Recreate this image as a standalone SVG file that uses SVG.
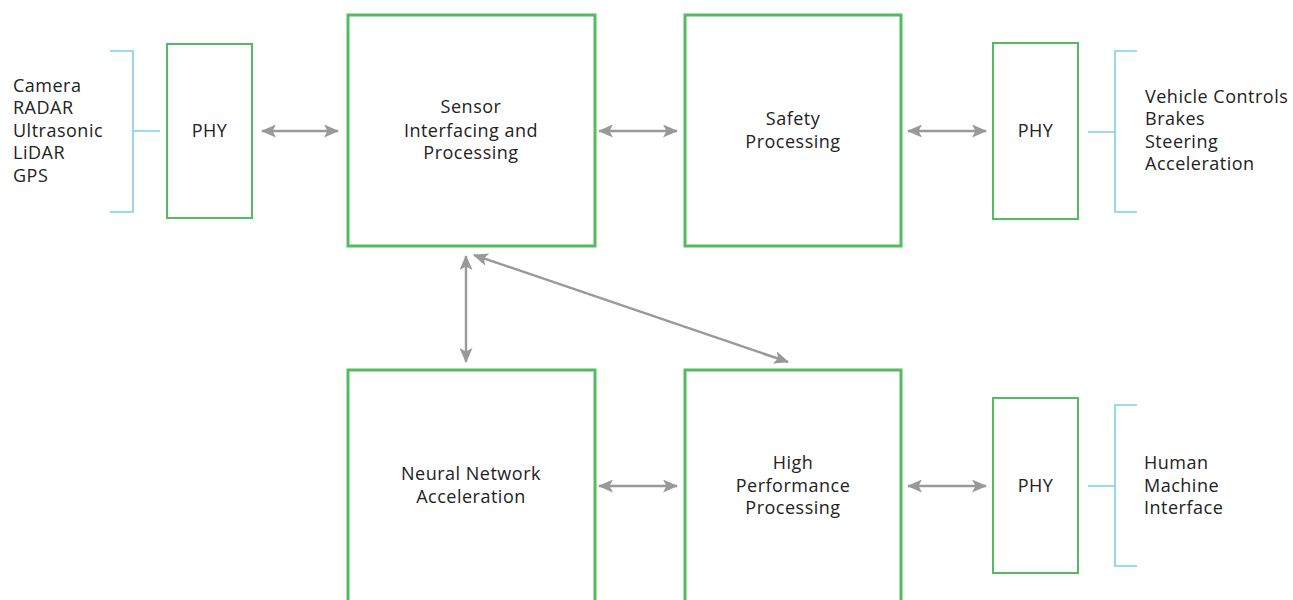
<svg xmlns="http://www.w3.org/2000/svg" width="1293" height="600" viewBox="0 0 1293 600">
<defs>
<marker id="ah" viewBox="0 0 15 13" refX="14" refY="6.5" markerWidth="15" markerHeight="13" markerUnits="userSpaceOnUse" orient="auto-start-reverse">
<path d="M0,0 L15,6.5 L0,13 L3.5,6.5 Z" fill="#999"/>
</marker>
<style>
.big{fill:#fff;stroke:#55bb62;stroke-width:3}
.phy{fill:#fff;stroke:#55bb62;stroke-width:2}
.br{fill:none;stroke:#7fcfe3;stroke-width:1.6}
.c{fill:none;stroke:#999;stroke-width:2.4;marker-start:url(#ah);marker-end:url(#ah)}
text{font-family:"Open Sans","Liberation Sans",sans-serif;font-size:18px;letter-spacing:0.5px;fill:#222}
.m{text-anchor:middle}
</style>
</defs>
<rect width="1293" height="600" fill="#fff"/>
<g id="sensors">
<path class="br" d="M110,51 H133 V212 H110 M133,131 H160"/>
<text x="13" y="92">Camera</text>
<text x="13" y="114">RADAR</text>
<text x="13" y="137">Ultrasonic</text>
<text x="13" y="159">LiDAR</text>
<text x="13" y="182">GPS</text>
</g>
<g id="phy1"><rect class="phy" x="167" y="44" width="85" height="174"/><text class="m" x="209.5" y="137">PHY</text></g>
<g id="sensor"><rect class="big" x="348" y="15" width="247" height="231"/>
<text class="m" x="471" y="113">Sensor</text><text class="m" x="471" y="137">Interfacing and</text><text class="m" x="471" y="159">Processing</text></g>
<g id="safety"><rect class="big" x="685" y="15" width="216" height="231"/>
<text class="m" x="793" y="125">Safety</text><text class="m" x="793" y="148">Processing</text></g>
<g id="phy2"><rect class="phy" x="993" y="43" width="85" height="176"/><text class="m" x="1035.5" y="137">PHY</text></g>
<g id="vehicle">
<path class="br" d="M1137,51 H1115 V212 H1137 M1115,132 H1088"/>
<text x="1145" y="103">Vehicle Controls</text>
<text x="1145" y="125">Brakes</text>
<text x="1145" y="148">Steering</text>
<text x="1145" y="170">Acceleration</text>
</g>
<g id="neural"><rect class="big" x="348" y="370" width="247" height="240"/>
<text class="m" x="471" y="480">Neural Network</text><text class="m" x="471" y="503">Acceleration</text></g>
<g id="hpp"><rect class="big" x="685" y="370" width="216" height="240"/>
<text class="m" x="793" y="469">High</text><text class="m" x="793" y="492">Performance</text><text class="m" x="793" y="514">Processing</text></g>
<g id="phy3"><rect class="phy" x="993" y="398" width="85" height="175"/><text class="m" x="1035.5" y="492">PHY</text></g>
<g id="hmi">
<path class="br" d="M1137,405 H1115 V566 H1137 M1115,486 H1088"/>
<text x="1144" y="469">Human</text>
<text x="1144" y="492">Machine</text>
<text x="1144" y="514">Interface</text>
</g>
<g id="connectors">
<line class="c" x1="262" y1="131" x2="338" y2="131"/>
<line class="c" x1="599" y1="131" x2="677" y2="131"/>
<line class="c" x1="908" y1="131" x2="986" y2="131"/>
<line class="c" x1="599" y1="486" x2="677" y2="486"/>
<line class="c" x1="908" y1="486" x2="986" y2="486"/>
<line class="c" x1="466" y1="256" x2="466" y2="362"/>
<line class="c" x1="474" y1="255" x2="788" y2="362"/>
</g>
</svg>
